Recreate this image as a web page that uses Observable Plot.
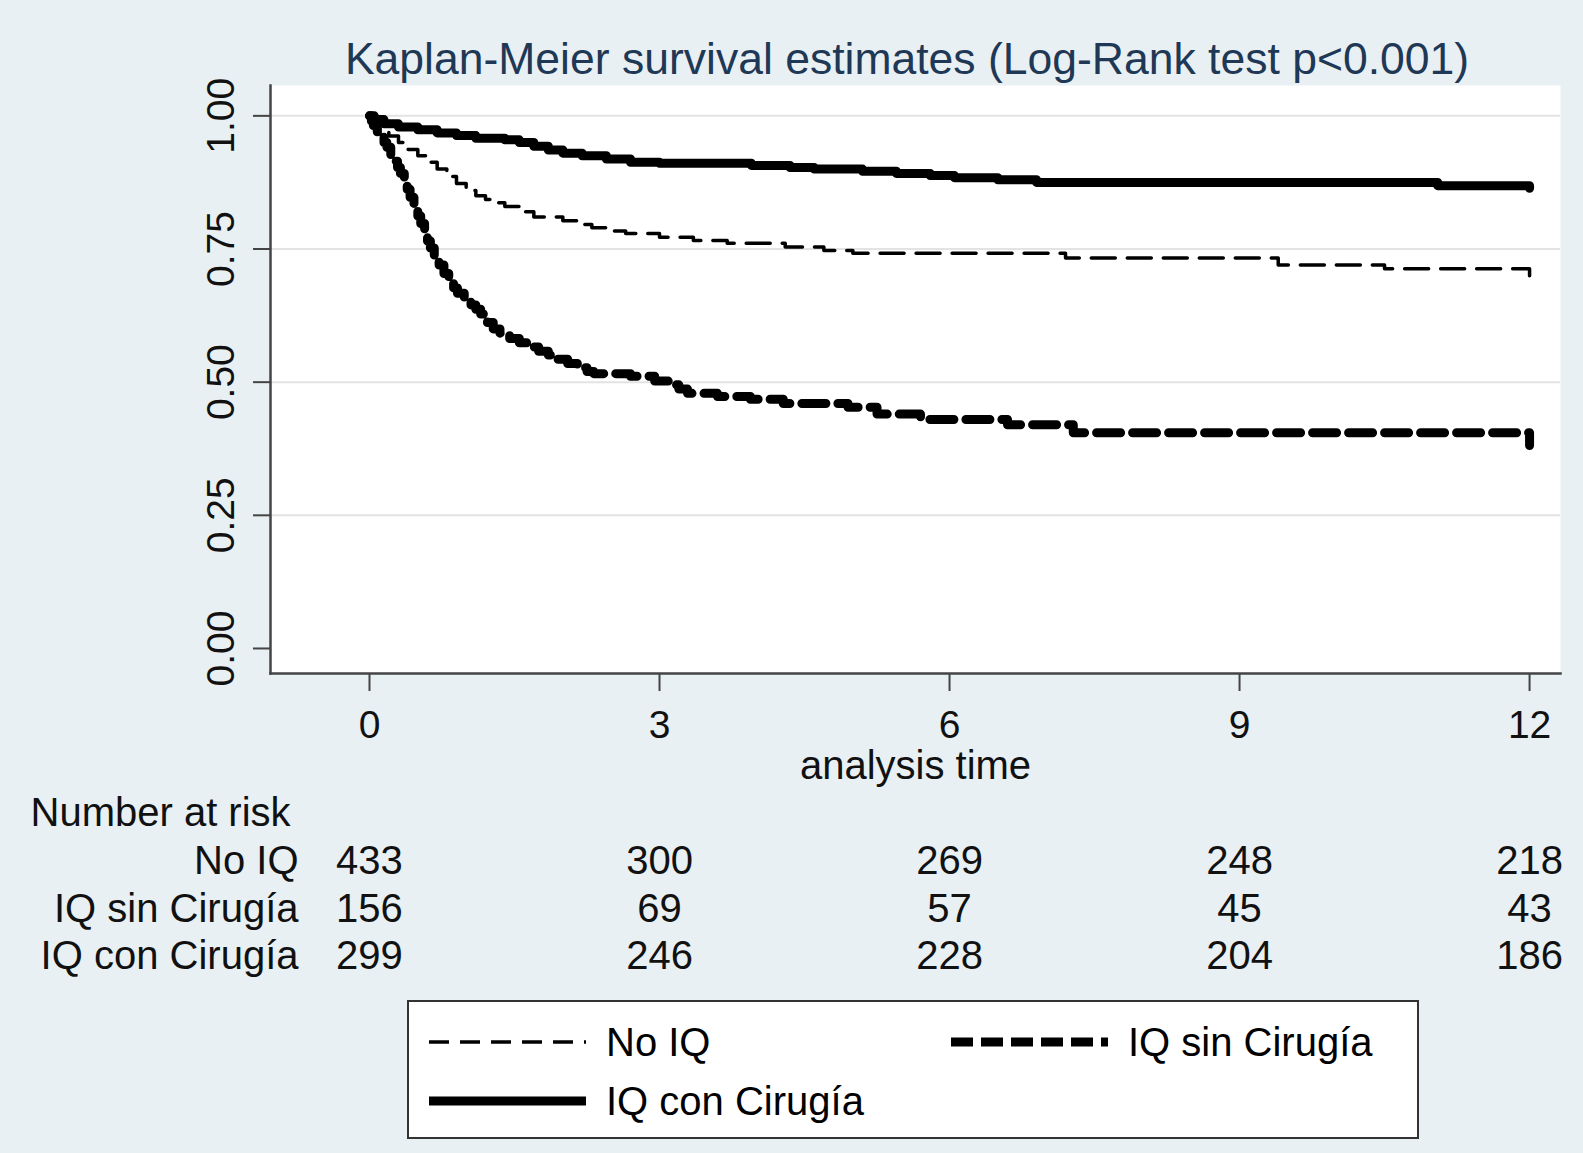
<!DOCTYPE html>
<html>
<head>
<meta charset="utf-8">
<script src="https://cdn.jsdelivr.net/npm/d3@7"></script>
<script src="https://cdn.jsdelivr.net/npm/@observablehq/plot@0.6"></script>
<style>
  html, body { margin: 0; padding: 0; background: #e9f0f3; }
  body { width: 1583px; height: 1153px; position: relative; overflow: hidden; font-family: "Liberation Sans", Arial, sans-serif; }
  #title { position: absolute; left: 262px; width: 1290px; top: 36px; text-align: center; font-size: 44.5px; line-height: 46px; color: #1e3856; white-space: nowrap; }
  #chart { position: absolute; left: 0; top: 0; }
  #legend { position: absolute; left: 407px; top: 1000px; width: 1012px; height: 139px; box-sizing: border-box; border: 2px solid #333; background: #fff; }
  .item { position: absolute; display: flex; align-items: center; height: 50px; font-size: 40px; color: #000; white-space: nowrap; }
  .item svg { margin-right: 20px; }
</style>
</head>
<body>
<div id="chart"></div>
<div id="title">Kaplan-Meier survival estimates (Log-Rank test p&lt;0.001)</div>
<div id="legend"></div>
<script>
// ---- data ----
const groups = ["No IQ", "IQ sin Cirugía", "IQ con Cirugía"];

const noIQ_t = [0, 0.04, 0.1, 0.2, 0.3, 0.4, 0.5, 0.6, 0.7, 0.8, 0.9, 1.0, 1.1, 1.2, 1.3, 1.4, 1.55, 1.7, 2.0, 2.15, 2.3, 2.5, 2.65, 3.0, 3.35, 3.7, 4.3, 4.7, 5.0, 7.2, 9.4, 10.5, 12];
const noIQ_s = [1, 0.985, 0.975, 0.962, 0.95, 0.937, 0.925, 0.913, 0.9, 0.886, 0.873, 0.86, 0.85, 0.843, 0.837, 0.83, 0.82, 0.81, 0.803, 0.796, 0.79, 0.784, 0.779, 0.772, 0.766, 0.761, 0.754, 0.747, 0.742, 0.733, 0.72, 0.713, 0.697];

const sinCir_t = [0, 0.02, 0.04, 0.08, 0.12, 0.15, 0.18, 0.22, 0.25, 0.29, 0.32, 0.36, 0.39, 0.42, 0.46, 0.5, 0.53, 0.57, 0.6, 0.63, 0.67, 0.72, 0.77, 0.82, 0.87, 0.91, 0.98, 1.05, 1.1, 1.15, 1.22, 1.28, 1.35, 1.45, 1.55, 1.65, 1.75, 1.85, 1.95, 2.05, 2.15, 2.25, 2.32, 2.7, 2.95, 3.1, 3.2, 3.29, 3.6, 3.94, 4.28, 4.95, 5.25, 5.7, 6.6, 7.28, 12];
const sinCir_s = [1, 0.99, 0.982, 0.97, 0.96, 0.95, 0.941, 0.927, 0.915, 0.903, 0.892, 0.875, 0.862, 0.847, 0.83, 0.812, 0.798, 0.78, 0.765, 0.752, 0.737, 0.72, 0.704, 0.69, 0.677, 0.667, 0.655, 0.645, 0.637, 0.628, 0.612, 0.6, 0.592, 0.582, 0.574, 0.566, 0.558, 0.551, 0.543, 0.535, 0.527, 0.52, 0.516, 0.511, 0.502, 0.495, 0.487, 0.479, 0.473, 0.468, 0.46, 0.453, 0.44, 0.43, 0.42, 0.405, 0.381];

const conCir_t = [0, 0.05, 0.15, 0.3, 0.5, 0.7, 0.9, 1.1, 1.4, 1.55, 1.7, 1.85, 2.0, 2.2, 2.45, 2.7, 3.0, 3.95, 4.35, 4.6, 5.1, 5.45, 5.8, 6.05, 6.5, 6.9, 11.05, 12];
const conCir_s = [1, 0.993, 0.985, 0.979, 0.974, 0.968, 0.963, 0.958, 0.955, 0.95, 0.943, 0.936, 0.93, 0.925, 0.919, 0.913, 0.911, 0.907, 0.903, 0.9, 0.896, 0.892, 0.888, 0.884, 0.88, 0.875, 0.869, 0.864];

const xTicks = [0, 3, 6, 9, 12];
const yTicks = [0, 0.25, 0.5, 0.75, 1];
const riskNoIQ = [433, 300, 269, 248, 218];
const riskSinCir = [156, 69, 57, 45, 43];
const riskConCir = [299, 246, 228, 204, 186];

// ---- build tables ----
const toRows = (ts, ss, g) => ts.map((t, i) => ({t, s: ss[i], g}));
const dNo = toRows(noIQ_t, noIQ_s, groups[0]);
const dSin = toRows(sinCir_t, sinCir_s, groups[1]);
const dCon = toRows(conCir_t, conCir_s, groups[2]);

const styles = {
  "No IQ": {strokeWidth: 3.5, strokeDasharray: "24,12"},
  "IQ sin Cirugía": {strokeWidth: 9, strokeDasharray: "24,12"},
  "IQ con Cirugía": {strokeWidth: 9, strokeDasharray: null}
};

const font = 40;
const rows = [
  {label: groups[0], vals: riskNoIQ, dy: 188},
  {label: groups[1], vals: riskSinCir, dy: 236},
  {label: groups[2], vals: riskConCir, dy: 283}
];

const marks = [
  Plot.frame({fill: "#fff", stroke: null}),
  Plot.gridY(yTicks.filter(d => d > 0), {stroke: "#e3e3e3", strokeOpacity: 1, strokeWidth: 2}),
  Plot.frame({anchor: "left", stroke: "#444", strokeWidth: 2.5}),
  Plot.frame({anchor: "bottom", stroke: "#444", strokeWidth: 2.5}),
  Plot.axisY({ticks: yTicks, tickSize: 17, tickFormat: () => "", label: null, stroke: "#444", strokeWidth: 2}),
  Plot.text(yTicks, {y: d => d, text: d => d.toFixed(2), frameAnchor: "left", dx: -49, rotate: -90, textAnchor: "middle", lineAnchor: "middle", fontSize: 39, fill: "#111"}),
  Plot.axisX({ticks: xTicks, tickSize: 18, tickPadding: 19, fontSize: 39, label: null, stroke: "#444", strokeWidth: 2, fill: "#111"}),
  Plot.text(["analysis time"], {frameAnchor: "bottom", dy: 93, textAnchor: "middle", lineAnchor: "middle", fontSize: font, fill: "#111"}),
  Plot.line(dNo, {x: "t", y: "s", curve: "step-after", stroke: "#000", ...styles["No IQ"]}),
  Plot.line(dSin, {x: "t", y: "s", curve: "step-after", stroke: "#000", ...styles["IQ sin Cirugía"]}),
  Plot.line(dCon, {x: "t", y: "s", curve: "step-after", stroke: "#000", ...styles["IQ con Cirugía"]}),
  Plot.text(["Number at risk"], {frameAnchor: "bottom-left", dx: -240, dy: 140, textAnchor: "start", lineAnchor: "middle", fontSize: font, fill: "#111"})
];
for (const r of rows) {
  marks.push(Plot.text([r.label], {frameAnchor: "bottom-left", dx: 28, dy: r.dy, textAnchor: "end", lineAnchor: "middle", fontSize: font, fill: "#111"}));
  marks.push(Plot.text(xTicks, {x: d => d, text: (d, i) => String(r.vals[i]), frameAnchor: "bottom", dy: r.dy, textAnchor: "middle", lineAnchor: "middle", fontSize: font, fill: "#111"}));
}

const chart = Plot.plot({
  width: 1583,
  height: 985,
  marginLeft: 270,
  marginRight: 23,
  marginTop: 85,
  marginBottom: 312,
  style: {background: "transparent", fontFamily: "'Liberation Sans', Arial, sans-serif", overflow: "visible", color: "#111"},
  x: {domain: [-1.024, 12.32]},
  y: {domain: [-0.047, 1.057]},
  marks
});
document.getElementById("chart").appendChild(chart);

// ---- legend ----
const legend = document.getElementById("legend");
const items = [
  {g: groups[0], left: 20, top: 15},
  {g: groups[1], left: 542, top: 15},
  {g: groups[2], left: 20, top: 74}
];
for (const it of items) {
  const st = styles[it.g];
  const div = document.createElement("div");
  div.className = "item";
  div.style.left = it.left + "px";
  div.style.top = it.top + "px";
  const dash = it.g === "IQ sin Cirugía" ? "22,8" : (it.g === "No IQ" ? "20,11" : null);
  div.innerHTML = `<svg width="157" height="14"><line x1="0" x2="157" y1="7" y2="7" stroke="#000" stroke-width="${st.strokeWidth}" ${dash ? `stroke-dasharray="${dash}"` : ""}/></svg><span>${it.g}</span>`;
  legend.appendChild(div);
}
</script>
</body>
</html>
